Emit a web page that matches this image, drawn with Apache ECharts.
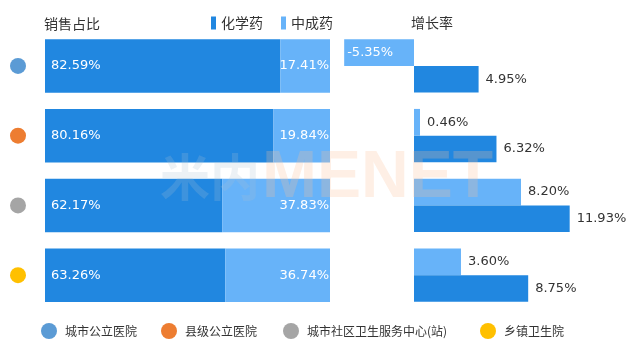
<!DOCTYPE html>
<html><head><meta charset="utf-8">
<script src="https://cdn.jsdelivr.net/npm/echarts@6/dist/echarts.min.js"></script>
<style>html,body{margin:0;padding:0;background:#fff}#c{width:640px;height:360px}</style>
</head><body><div id="c"></div>
<script>
const categories = ['城市公立医院', '县级公立医院', '城市社区卫生服务中心(站)', '乡镇卫生院'];
const categoryColors = ['#5b9bd5', '#ed7d31', '#a5a5a5', '#ffc000'];
const chemShare = [82.59, 80.16, 62.17, 63.26];
const tcmShare = [17.41, 19.84, 37.83, 36.74];
const tcmGrowth = [-5.35, 0.46, 8.20, 3.60];
const chemGrowth = [4.95, 6.32, 11.93, 8.75];

const DARK = '#2187e0';
const LIGHT = '#67b3f9';
const NUMFONT = 'DejaVu Sans';
const CJK = '"Noto Sans CJK SC", sans-serif';

const chart = echarts.init(document.getElementById('c'), null, {renderer: 'canvas'});
const gridTop = 31, gridH = 279;

const scatterSeries = categories.map((name, i) => ({
  name: name, type: 'scatter', xAxisIndex: 2, yAxisIndex: 2,
  symbol: 'circle', symbolSize: 16, itemStyle: {color: categoryColors[i], opacity: 1},
  data: categories.map((c, j) => j === i ? [0, c] : ['-', c]),
  silent: true
}));

const bottomLegendLeft = [41, 161, 283, 480];

const option = {
  animation: false,
  title: [
    {text: '销售占比', left: 44, top: 17, padding: 0, textStyle: {fontFamily: CJK, fontSize: 14, fontWeight: 'normal', color: '#333'}},
    {text: '增长率', left: 411, top: 16, padding: 0, textStyle: {fontFamily: CJK, fontSize: 14, fontWeight: 'normal', color: '#333'}}
  ],
  legend: [
    {data: ['化学药', '中成药'], left: 211, top: 16, padding: 0, icon: 'rect', itemWidth: 5, itemHeight: 13, itemGap: 18,
     textStyle: {fontFamily: CJK, fontSize: 14, color: '#333'}, selectedMode: false}
  ].concat(categories.map((c, i) => ({
     data: [c], left: bottomLegendLeft[i], top: 323, padding: 0, icon: 'circle', itemWidth: 22, itemHeight: 16,
     itemStyle: {opacity: 1},
     textStyle: {fontFamily: CJK, fontSize: 12, color: '#333'}, selectedMode: false
  }))),
  grid: [
    {left: 45, width: 285, top: gridTop, height: gridH},
    {left: 335.7, width: 261, top: gridTop, height: gridH},
    {left: 0, width: 36, top: gridTop, height: gridH}
  ],
  xAxis: [
    {gridIndex: 0, type: 'value', min: 0, max: 100, show: false},
    {gridIndex: 1, type: 'value', min: -6, max: 14, show: false},
    {gridIndex: 2, type: 'value', min: -1, max: 1, show: false}
  ],
  yAxis: [0, 1, 2].map(g => ({gridIndex: g, type: 'category', data: categories, inverse: true, show: false})),
  series: [
    {name: '化学药', type: 'bar', stack: 'share', xAxisIndex: 0, yAxisIndex: 0, barWidth: 53.5,
     itemStyle: {color: DARK}, data: chemShare,
     label: {show: true, position: 'insideLeft', distance: 6, color: '#fff', fontFamily: NUMFONT, fontSize: 13,
             formatter: p => p.value.toFixed(2) + '%'}},
    {name: '中成药', type: 'bar', stack: 'share', xAxisIndex: 0, yAxisIndex: 0, barWidth: 53.5,
     itemStyle: {color: LIGHT}, data: tcmShare,
     label: {show: true, position: 'insideRight', distance: 1, color: '#fff', fontFamily: NUMFONT, fontSize: 13,
             formatter: p => p.value.toFixed(2) + '%'}},
    {name: '中成药', type: 'bar', xAxisIndex: 1, yAxisIndex: 1, barWidth: 26.7, barGap: 0,
     itemStyle: {color: LIGHT},
     data: tcmGrowth.map(v => v < 0 ? {value: v, label: {position: 'insideLeft', distance: 3, color: '#fff'}} : v),
     label: {show: true, position: 'right', distance: 7, color: '#333', fontFamily: NUMFONT, fontSize: 13,
             formatter: p => p.value.toFixed(2) + '%'}},
    {name: '化学药', type: 'bar', xAxisIndex: 1, yAxisIndex: 1, barWidth: 26.7, barGap: 0,
     itemStyle: {color: DARK}, data: chemGrowth,
     label: {show: true, position: 'right', distance: 7, color: '#333', fontFamily: NUMFONT, fontSize: 13,
             formatter: p => p.value.toFixed(2) + '%'}}
  ].concat(scatterSeries),
  graphic: [
    {type: 'text', left: 160, top: 152, z: 100, silent: true,
     style: {text: '米内', fill: 'rgba(170,190,210,0.22)', font: 'bold 50px "Noto Sans CJK SC"'}},
    {type: 'text', left: 262, top: 146, z: 100, silent: true,
     style: {text: 'MENET', fill: 'rgba(250,190,150,0.25)', font: 'bold 66px "Liberation Sans"'}}
  ]
};
chart.setOption(option);
</script></body></html>
